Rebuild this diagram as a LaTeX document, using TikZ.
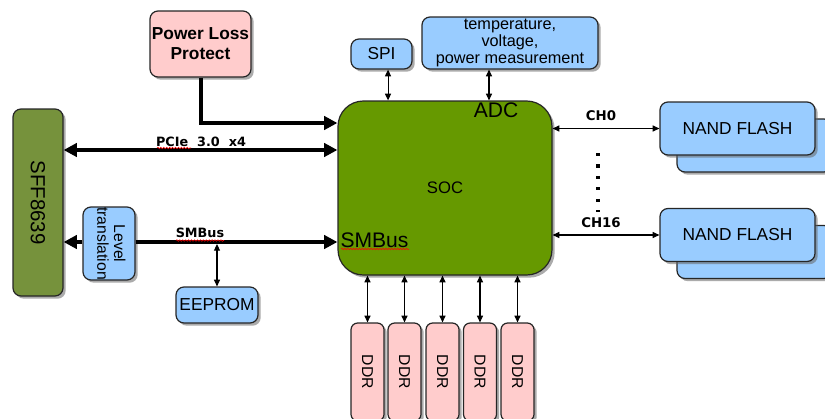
\documentclass[tikz,border=0pt]{standalone}
\usepackage{graphicx}
\usepackage{fontspec}
\setmainfont{Liberation Sans}
\newfontfamily\labfont{DejaVu Sans}
\usetikzlibrary{arrows.meta,shadows,decorations.pathmorphing}
\definecolor{pinkc}{HTML}{FFCCCC}
\definecolor{bluec}{HTML}{99CCFF}
\definecolor{socg}{HTML}{669900}
\definecolor{sffg}{HTML}{76923C}
\begin{document}
\begin{tikzpicture}[x=0.75pt,y=-0.75pt,
  box/.style={draw=black!85, line width=0.9pt, rounded corners=6pt, inner sep=0pt, align=center,
    drop shadow={shadow xshift=2pt, shadow yshift=-2pt, fill=black!60, opacity=0.55},
    font=\fontsize{13}{15}\selectfont},
  pinkbox/.style={box, fill=pinkc},
  bluebox/.style={box, fill=bluec},
  bigline/.style={line width=3pt},
  bighead/.style={-{Triangle[length=10pt,width=10pt]}},
  thinarr/.style={line width=0.8pt, {Triangle[length=5pt,width=4.5pt]}-{Triangle[length=5pt,width=4.5pt]}},
  lab/.style={font=\labfont\bfseries\fontsize{9.6}{11}\selectfont, inner sep=0pt},
  squig/.style={red, line width=0.4pt, decorate, decoration={snake, amplitude=0.6pt, segment length=2.2pt}}
]
\useasboundingbox (0,0) rectangle (825,418);
\clip (0,0) rectangle (825,418);

% boxes
\node[pinkbox, minimum width=75.75pt, minimum height=49.5pt, font=\bfseries\fontsize{13}{15}\selectfont] (plp) at (200.5,44) {Power Loss\\Protect};
\node[box, fill=sffg, minimum width=37.5pt, minimum height=140.25pt] (sff) at (38,202.5) {\fontsize{15.3}{17}\selectfont\rotatebox{-90}{SFF8639}};
\node[box, fill=socg, rounded corners=19pt, minimum width=160.5pt, minimum height=130.5pt] (soc) at (445,188) {};
\node[inner sep=0pt, font=\fontsize{12.5}{14}\selectfont] (soct) at (445,188) {SOC};
\node[inner sep=0pt, font=\fontsize{15.8}{18}\selectfont] (adc) at (496,110) {ADC};
\node[inner sep=0pt, font=\fontsize{15.8}{18}\selectfont] (smbin) at (374.5,240) {SMBus};
\node[bluebox, minimum width=45.75pt, minimum height=22.5pt] (spi) at (381.5,54) {SPI};
\node[bluebox, minimum width=132pt, minimum height=39pt, font=\fontsize{12.2}{12.8}\selectfont] (temp) at (510,43) {temperature,\\voltage,\\power measurement};
\node[bluebox, minimum width=116.25pt, minimum height=39.75pt] (nand1b) at (754.5,145.5) {};
\node[bluebox, minimum width=116.25pt, minimum height=39.75pt] (nand1) at (737.5,128.5) {NAND FLASH};
\node[bluebox, minimum width=116.25pt, minimum height=39.75pt] (nand2b) at (754.5,252) {};
\node[bluebox, minimum width=116.25pt, minimum height=39.75pt] (nand2) at (737.5,235) {NAND FLASH};
\node[bluebox, minimum width=61.5pt, minimum height=27pt] (eeprom) at (217,305) {EEPROM};
\node[bluebox, minimum width=39pt, minimum height=54.75pt, font=\fontsize{11.8}{12.5}\selectfont] (level) at (109,243.5) {\rotatebox{-90}{\begin{tabular}{@{}c@{}}Level\\translation\end{tabular}}};
\foreach \i/\x in {1/367.5,2/404.5,3/442.5,4/480,5/517.5}{
  \node[pinkbox, rounded corners=5pt, minimum width=24.75pt, minimum height=73.5pt, font=\fontsize{11.8}{13}\selectfont] (ddr\i) at (\x,372) {\rotatebox{-90}{DDR}};
}

% coordinates
\coordinate (pciey) at (0,150);
\coordinate (plpy) at (0,123);
\coordinate (smby) at (0,242);
\coordinate (eepy) at (0,244);
\coordinate (spia) at ([xshift=4.9pt]spi.south);
\coordinate (tempa) at ([xshift=-15.75pt]temp.south);
\coordinate (dota) at (598,153);
\coordinate (dotb) at (598,212);

% thick connectors
\draw[bigline, {Triangle[length=10pt,width=10pt]}-{Triangle[length=10pt,width=10pt]}] (pciey -| sff.east) -- (pciey -| soc.west);
\draw[bigline, bighead] (plp.south) |- (plpy -| soc.west);
\draw[bigline, bighead] (smby -| level.east) -- (smby -| soc.west);
\draw[bigline, bighead] (smby -| level.west) -- (smby -| sff.east);

% thin connectors
\draw[thinarr] (eepy -| eeprom.north) -- (eeprom.north);
\draw[thinarr] (spia) -- (spia |- soc.north);
\draw[thinarr] (tempa) -- (tempa |- soc.north);
\draw[thinarr] (soc.east |- nand1.west) -- (nand1.west);
\draw[thinarr] (soc.east |- nand2.west) -- (nand2.west);
\foreach \i in {1,...,5}{
  \draw[thinarr] (ddr\i.north |- soc.south) -- (ddr\i.north);
}
\draw[line width=2.3pt, dash pattern=on 2.3pt off 6.3pt] (dota) -- (dotb);

% labels
\node[lab] (pcielab) at (201,142) {PCIe\ \ 3.0\ \ x4};
\node[lab] (smblab) at (200,233) {SMBus};
\node[lab, font=\labfont\bfseries\fontsize{10}{12}\selectfont] (ch0) at (601,116) {CH0};
\node[lab, font=\labfont\bfseries\fontsize{10}{12}\selectfont] (ch16) at (601,223) {CH16};

% spell-check squiggles
\draw[squig] (157,148) -- (191,148);
\draw[squig] (176,240.5) -- (224,240.5);
\draw[squig] (341,249) -- (409,249);
\end{tikzpicture}
\end{document}
